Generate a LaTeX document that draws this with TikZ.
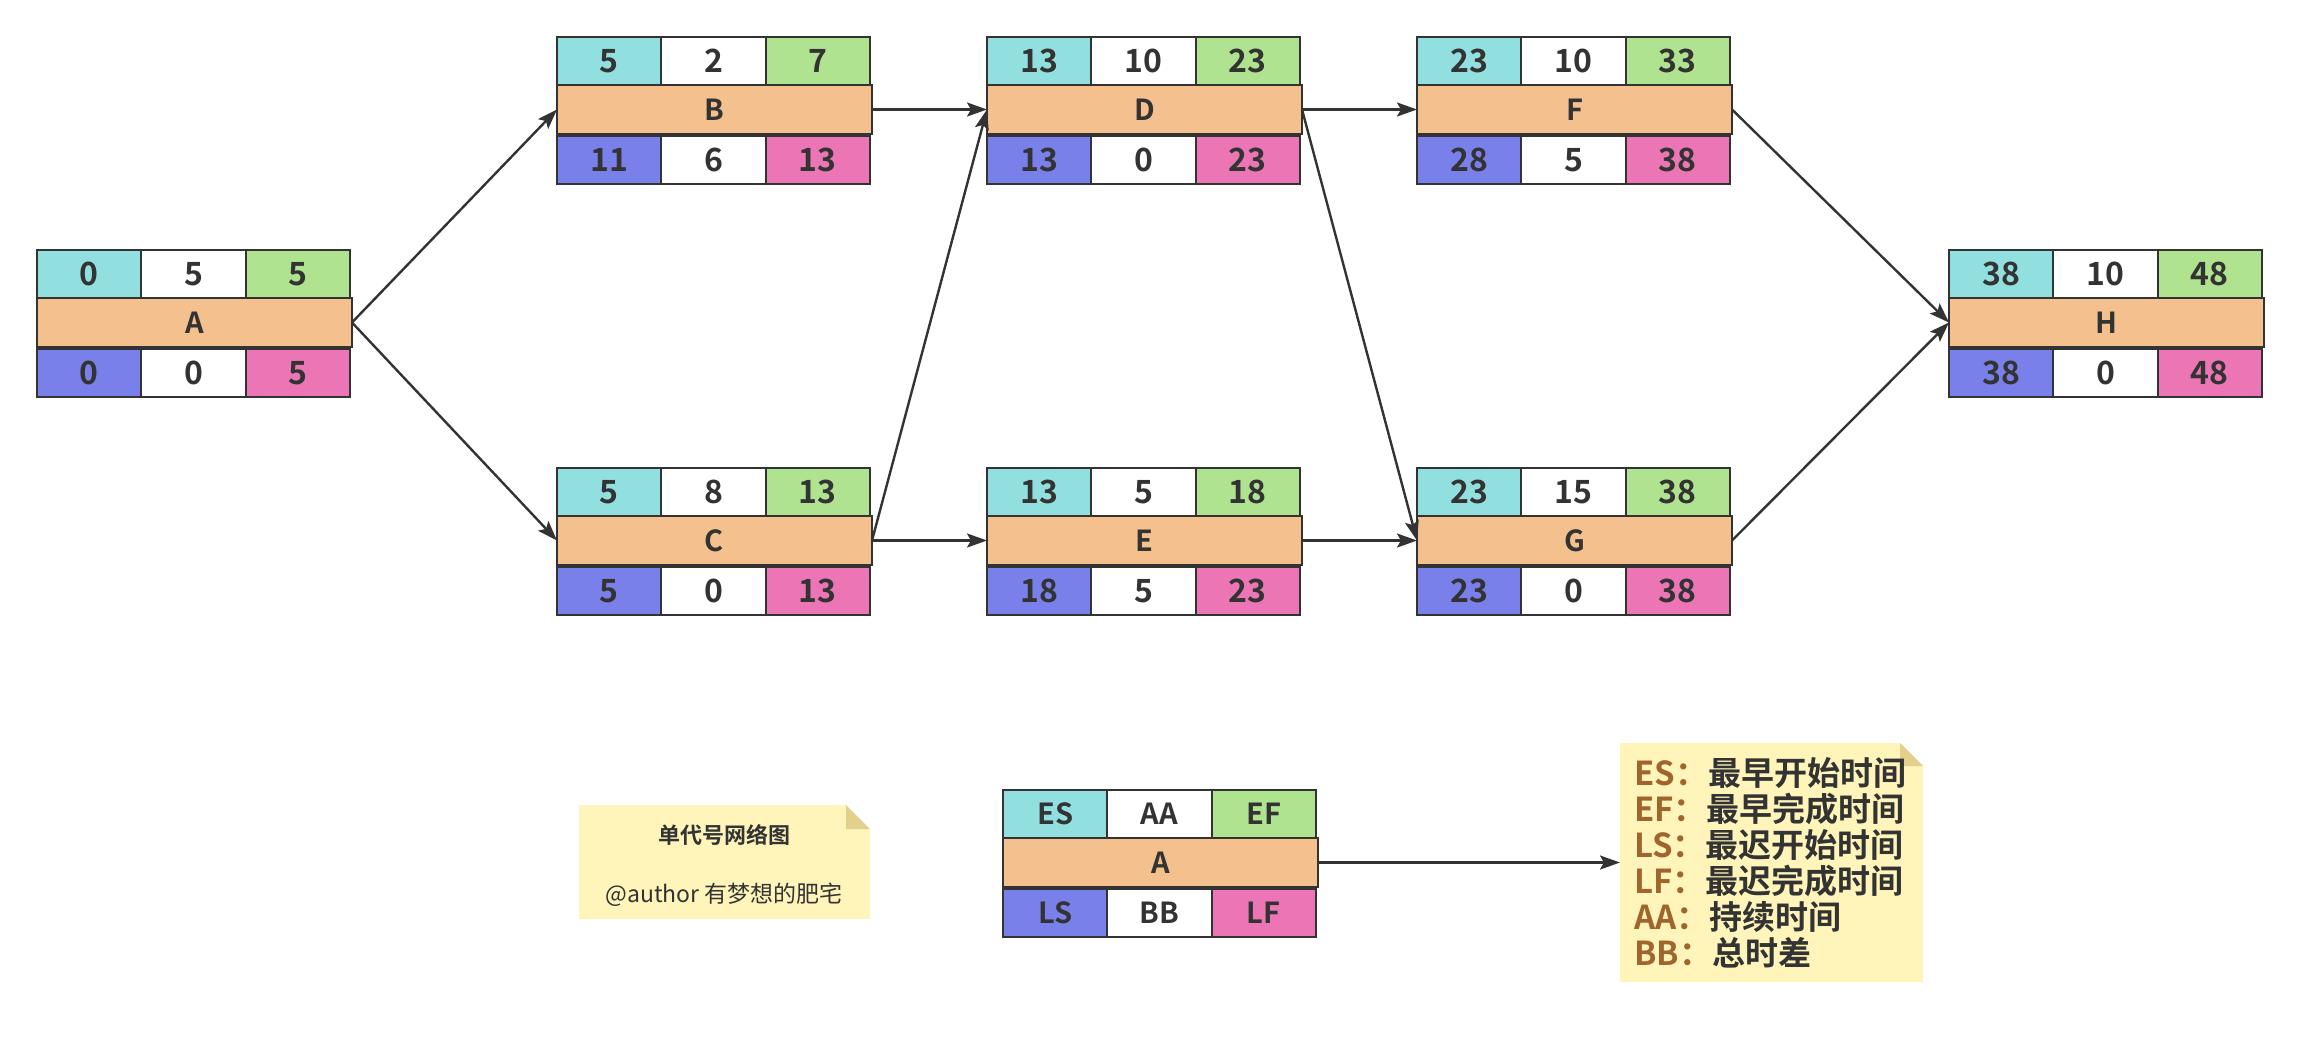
\documentclass[tikz,border=0pt]{standalone}
\usepackage{fontspec}
\setmainfont{Noto Sans CJK SC}
\newfontfamily\nbold{Noto Sans CJK SC Bold}
\usetikzlibrary{arrows.meta}
\definecolor{cES}{HTML}{92DFDF}
\definecolor{cEF}{HTML}{B0E38F}
\definecolor{cMid}{HTML}{F4C08E}
\definecolor{cLS}{HTML}{7A80EA}
\definecolor{cLF}{HTML}{EC76B5}
\definecolor{ink}{HTML}{333333}
\definecolor{noteY}{HTML}{FFF5BA}
\definecolor{noteF}{HTML}{E3D08C}
\definecolor{lab}{HTML}{A0652C}
\tikzset{
  cell/.style={draw=ink, line width=2pt, minimum width=104.3pt, minimum height=48pt,
    inner sep=0pt, outer sep=0pt, text=ink, font=\fontsize{32}{32}\selectfont\nbold},
  midbar/.style={cell, fill=cMid, minimum width=315pt, minimum height=49pt,
    font=\fontsize{29}{29}\selectfont\nbold},
  arr/.style={draw=ink, line width=2.4pt, -{Stealth[length=20pt,width=14pt,inset=4pt]}},
  notebox/.style={fill=noteY, draw=none, inner sep=0pt, outer sep=0pt},
}
\newcommand{\pertnode}[9]{%
  \node[cell, fill=cES, anchor=north west] (#1es) at (#2) {#3};
  \node[cell, fill=white, anchor=west] (#1aa) at (#1es.east) {#4};
  \node[cell, fill=cEF, anchor=west] (#1ef) at (#1aa.east) {#5};
  \node[midbar, anchor=north west] (#1) at (#1es.south west) {#6};
  \node[cell, fill=cLS, anchor=north west] (#1ls) at ([yshift=-2pt]#1.south west) {#7};
  \node[cell, fill=white, anchor=west] (#1bb) at (#1ls.east) {#8};
  \node[cell, fill=cLF, anchor=west] (#1lf) at (#1bb.east) {#9};
}
\begin{document}
\begin{tikzpicture}[x=1pt,y=-1pt]
\useasboundingbox (0,0) rectangle (2300,1053);
\fill[white] (0,0) rectangle (2300,1053);

\pertnode{A}{37,250}{0}{5}{5}{A}{0}{0}{5}
\pertnode{B}{557,37}{5}{2}{7}{B}{11}{6}{13}
\pertnode{C}{557,468}{5}{8}{13}{C}{5}{0}{13}
\pertnode{D}{987,37}{13}{10}{23}{D}{13}{0}{23}
\pertnode{E}{987,468}{13}{5}{18}{E}{18}{5}{23}
\pertnode{F}{1417,37}{23}{10}{33}{F}{28}{5}{38}
\pertnode{G}{1417,468}{23}{15}{38}{G}{23}{0}{38}
\pertnode{H}{1949,250}{38}{10}{48}{H}{38}{0}{48}

\draw[arr] (A.east) -- (B.west);
\draw[arr] (A.east) -- (C.west);
\draw[arr] (B.east) -- (D.west);
\draw[arr] (C.east) -- (D.west);
\draw[arr] (C.east) -- (E.west);
\draw[arr] (D.east) -- (F.west);
\draw[arr] (D.east) -- (G.west);
\draw[arr] (E.east) -- (G.west);
\draw[arr] (F.east) -- (H.west);
\draw[arr] (G.east) -- (H.west);

% legend node
\begin{scope}[cell/.append style={font=\fontsize{29}{29}\selectfont\nbold}]
\pertnode{L}{1003,790}{ES}{AA}{EF}{A}{LS}{BB}{LF}
\end{scope}

% note 1
\node[notebox, minimum width=291pt, minimum height=114pt, anchor=north west] (note1) at (579,805) {};
\fill[white] (note1.north east) -- ++(-24,0) -- ++(24,24) -- cycle;
\fill[noteF] ([xshift=-24pt]note1.north east) -- ++(0,24) -- ++(24,0) -- cycle;
\node[font=\fontsize{22}{22}\selectfont\nbold, text=ink] (n1a) at (724,835) {单代号网络图};
\node[font=\fontsize{23}{23}\selectfont, text=ink] (n1b) at (724,895) {@author 有梦想的肥宅};

% note 2
\node[notebox, minimum width=303pt, minimum height=239pt, anchor=north west] (note2) at (1620,743) {};
\fill[white] (note2.north east) -- ++(-23,0) -- ++(23,23) -- cycle;
\fill[noteF] ([xshift=-23pt]note2.north east) -- ++(0,23) -- ++(23,0) -- cycle;
\node[anchor=west, align=left, inner sep=0pt, text=ink,
      font=\fontsize{33}{36}\selectfont\nbold] (n2) at (1634,863)
  {\textcolor{lab}{ES：}最早开始时间\\
   \textcolor{lab}{EF：}最早完成时间\\
   \textcolor{lab}{LS：}最迟开始时间\\
   \textcolor{lab}{LF：}最迟完成时间\\
   \textcolor{lab}{AA：}持续时间\\
   \textcolor{lab}{BB：}总时差};

\draw[arr] (L.east) -- (note2.west);
\end{tikzpicture}
\end{document}
